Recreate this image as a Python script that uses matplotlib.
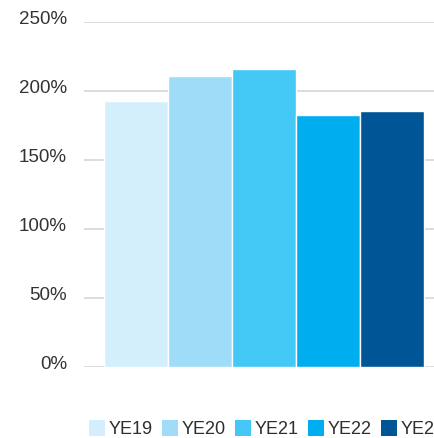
import numpy as np
import matplotlib
matplotlib.use("Agg")
import matplotlib.pyplot as plt
from matplotlib.patches import Patch
from matplotlib.transforms import ScaledTranslation

plt.rcParams['font.family'] = ['Liberation Sans', 'DejaVu Sans']

years = ['YE19', 'YE20', 'YE21', 'YE22', 'YE23']
ratios = [192.5, 210.5, 215.5, 182.5, 185.0]
colors = ['#d4effc', '#9fdcf7', '#44c8f5', '#00aeef', '#005596']
yticks = [0, 50, 100, 150, 200, 250]
ytick_labels = ['0%', '50%', '100%', '150%', '200%', '250%']

fig = plt.figure(figsize=(4.34, 4.38), dpi=100)
ax = fig.add_axes([84 / 434, 71.3 / 438, 360 / 434, (366.7 - 21.7) / 438])

x = np.arange(len(years))
ax.bar(x, ratios, width=1.0, color=colors, edgecolor='white', linewidth=1.0, zorder=2)

ax.set_xlim(-0.8125, len(years) - 1 + 0.8125)
ax.set_ylim(0, 250)
ax.set_yticks(yticks)
ax.yaxis.grid(True, color='#dadada', linewidth=1.3, zorder=0)
ax.set_axisbelow(True)
ax.set_xticks([])
ax.tick_params(axis='y', length=0, labelleft=False)
for s in ax.spines.values():
    s.set_visible(False)

# y labels sit just above their gridlines, right-aligned
offset = ScaledTranslation(-17 / 100, -2 / 100, fig.dpi_scale_trans)
for v, lab in zip(yticks, ytick_labels):
    ax.text(0, v, lab, transform=ax.get_yaxis_transform() + offset,
            ha='right', va='baseline', fontsize=13.5, color='#333333')

handles = [Patch(facecolor=c, edgecolor='none') for c in colors]
fig.legend(handles, years, loc='upper left', bbox_to_anchor=(89 / 434, 1 - 420 / 438),
           ncol=5, frameon=False, fontsize=13, borderpad=0, borderaxespad=0,
           handlelength=0.88, handleheight=1.0, handletextpad=0.22,
           columnspacing=0.5, labelcolor='#2e2e2e')

fig.savefig('out.png', dpi=100)
